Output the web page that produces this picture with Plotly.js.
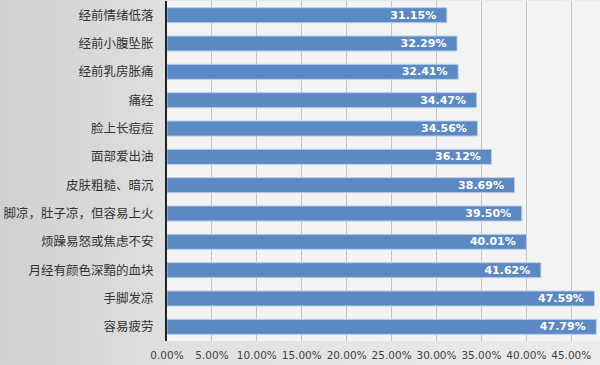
<!DOCTYPE html>
<html>
<head>
<meta charset="utf-8">
<script src="https://cdn.plot.ly/plotly-3.0.1.min.js"></script>
<style>
html,body{margin:0;padding:0;background:#dcdcdc;}
#chart{width:600px;height:365px;background:linear-gradient(to right,#d0d0d0 0%,#e0e0e0 30%,#ebebeb 100%);}
</style>
</head>
<body>
<div id="chart"></div>
<script>
const categories = ["经前情绪低落","经前小腹坠胀","经前乳房胀痛","痛经","脸上长痘痘","面部爱出油","皮肤粗糙、暗沉","脚凉，肚子凉，但容易上火","烦躁易怒或焦虑不安","月经有颜色深黯的血块","手脚发凉","容易疲劳"];
const values = [0.3115,0.3229,0.3241,0.3447,0.3456,0.3612,0.3869,0.3950,0.4001,0.4162,0.4759,0.4779];
const valueLabels = ["31.15%","32.29%","32.41%","34.47%","34.56%","36.12%","38.69%","39.50%","40.01%","41.62%","47.59%","47.79%"];

const trace = {
  type: 'bar',
  orientation: 'h',
  y: categories,
  x: values,
  text: valueLabels,
  texttemplate: '%{text}\u00a0\u00a0',
  textposition: 'inside',
  insidetextanchor: 'end',
  constraintext: 'none',
  textfont: {family: 'DejaVu Sans, Verdana, sans-serif', size: 11, color: '#ffffff', weight: 'bold'},
  marker: {color: '#5b89c4', line: {color: '#b8cfe9', width: 1}},
  hoverinfo: 'none',
  cliponaxis: false
};

const layout = {
  width: 600,
  height: 365,
  margin: {l: 167, r: 0, t: 1, b: 24, pad: 0},
  paper_bgcolor: 'rgba(0,0,0,0)',
  plot_bgcolor: '#f3f3f3',
  showlegend: false,
  bargap: 0.47,
  xaxis: {
    range: [0, 0.482],
    tickformat: '.2%',
    dtick: 0.05,
    tick0: 0,
    showgrid: true,
    gridcolor: '#c4c4c4',
    gridwidth: 1,
    zeroline: false,
    showline: false,
    ticks: '',
    ticklabelstandoff: 6,
    tickfont: {family: 'DejaVu Sans, Verdana, sans-serif', size: 10.5, color: '#404040'},
    fixedrange: true
  },
  yaxis: {
    autorange: 'reversed',
    showgrid: false,
    zeroline: false,
    showline: true,
    linecolor: '#222222',
    linewidth: 2,
    ticks: '',
    ticklabelstandoff: 9,
    tickfont: {family: 'Noto Sans CJK SC, sans-serif', size: 12.5, color: '#333333'},
    fixedrange: true
  },
  font: {family: 'Noto Sans CJK SC, sans-serif'}
};

Plotly.newPlot('chart', [trace], layout, {displayModeBar: false, staticPlot: true});
</script>
</body>
</html>
